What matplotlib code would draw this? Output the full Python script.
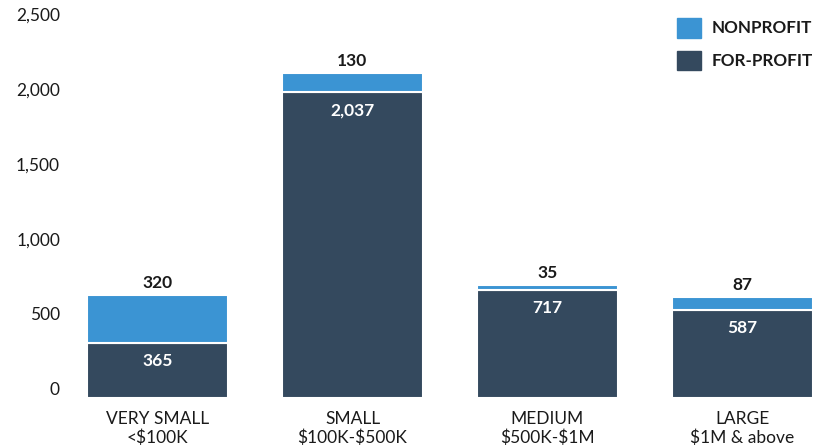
import matplotlib.pyplot as plt
from matplotlib.patches import Patch
from matplotlib.transforms import ScaledTranslation

# data
categories = ["VERY SMALL\n<\\$100K", "SMALL\n\\$100K-\\$500K", "MEDIUM\n\\$500K-\\$1M", "LARGE\n\\$1M & above"]
for_profit = [365, 2037, 717, 587]
nonprofit = [320, 130, 35, 87]
yticks = [0, 500, 1000, 1500, 2000, 2500]

dark = "#34495e"
blue = "#3b94d3"
txt = "#1a1a1a"

plt.rcParams['font.family'] = ['Lato', 'DejaVu Sans']

fig = plt.figure(figsize=(8.16, 4.48), dpi=100)
ax = fig.add_axes([60/816, 50/448, 756/816, 388/448])

x = list(range(len(categories)))
ax.bar(x, for_profit, width=0.72, color=dark, edgecolor="white", linewidth=1.5)
ax.bar(x, nonprofit, bottom=for_profit, width=0.72, color=blue, edgecolor="white", linewidth=1.5)

for i in x:
    top = for_profit[i] + nonprofit[i]
    ax.annotate(f"{nonprofit[i]:,}", (i, top), xytext=(0, 3), textcoords="offset points",
                ha="center", va="bottom", fontsize=12.5, fontweight="bold", color=txt)
    ax.annotate(f"{for_profit[i]:,}", (i, for_profit[i]), xytext=(0, -7), textcoords="offset points",
                ha="center", va="top", fontsize=12.5, fontweight="bold", color="white")

ax.set_xlim(-0.5, 3.377)
ax.set_ylim(0, 388 / 0.150)
ax.set_yticks(yticks)
ax.set_yticklabels([f"{v:,}" for v in yticks], fontsize=12.5, color=txt)
ax.set_xticks(x)
ax.set_xticklabels(categories, fontsize=12.5, color=txt, linespacing=1.2)
ax.tick_params(length=0, axis="y", pad=0)
ax.tick_params(length=0, axis="x", pad=9)

# y labels sit a bit above their values
for lbl in ax.get_yticklabels():
    lbl.set_transform(lbl.get_transform() + ScaledTranslation(0, 6.5/72, fig.dpi_scale_trans))

for s in ax.spines.values():
    s.set_visible(False)

handles = [Patch(color=blue, label="NONPROFIT"), Patch(color=dark, label="FOR-PROFIT")]
leg = ax.legend(handles=handles, loc="upper right", bbox_to_anchor=(1.0 + 4/756, 1.0 - 1/388),
                frameon=False, handlelength=1.4, handleheight=1.4, labelspacing=0.76,
                handletextpad=0.65, borderaxespad=0.0, prop={"size": 12.3, "weight": "bold"})
for t in leg.get_texts():
    t.set_color(txt)

fig.savefig("out.png", dpi=100)
